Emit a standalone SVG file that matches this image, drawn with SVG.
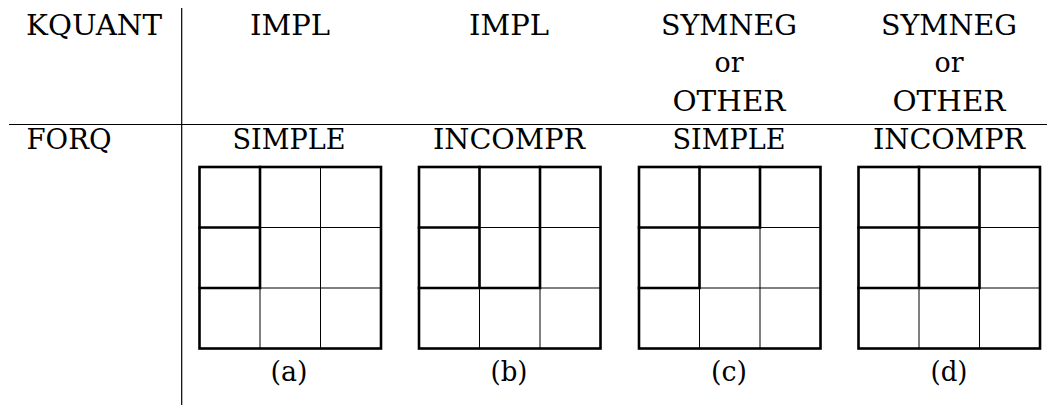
<svg xmlns="http://www.w3.org/2000/svg" width="1047" height="405" viewBox="0 0 1047 405">
<style>
text{font-family:'DejaVu Serif','Liberation Serif',serif;fill:#000;text-anchor:middle}
.t{font-size:28px}
.l{font-size:28px}
.rule{stroke:#000;stroke-width:1.2;fill:none}
.thin{stroke:#000;stroke-width:1;fill:none}
.thick{stroke:#000;stroke-width:2.6;fill:none;stroke-linecap:square}
</style>
<rect width="1047" height="405" fill="#fff"/>
<g id="connectors">
<line class="rule" x1="181.7" y1="8" x2="181.7" y2="405"/>
<line class="rule" x1="9" y1="124.5" x2="1047" y2="124.5"/>
</g>
<g id="header">
<text class="t" x="94" y="35" textLength="136" lengthAdjust="spacingAndGlyphs">KQUANT</text>
<text class="t" x="69" y="149" textLength="85" lengthAdjust="spacingAndGlyphs">FORQ</text>
</g>
<g id="col-a">
<text class="t" x="290" y="35" textLength="80" lengthAdjust="spacingAndGlyphs">IMPL</text>
<text class="t" x="289" y="149" textLength="113" lengthAdjust="spacingAndGlyphs">SIMPLE</text>
<g transform="translate(199.5,167)">
<path class="thin" d="M60.5 0V181.5M121 0V181.5M0 60.5H181.5M0 121H181.5"/>
<path class="thick" d="M60.5 0V121M0 60.5H60.5M0 121H60.5"/>
<rect class="thick" x="0" y="0" width="181.5" height="181.5"/>
</g>
<text class="l" x="289" y="381" textLength="37" lengthAdjust="spacingAndGlyphs">(a)</text>
</g>
<g id="col-b">
<text class="t" x="509" y="35" textLength="80" lengthAdjust="spacingAndGlyphs">IMPL</text>
<text class="t" x="509" y="149" textLength="152" lengthAdjust="spacingAndGlyphs">INCOMPR</text>
<g transform="translate(419,167)">
<path class="thin" d="M60.5 0V181.5M121 0V181.5M0 60.5H181.5M0 121H181.5"/>
<path class="thick" d="M60.5 0V121M121 0V121M0 60.5H60.5M0 121H121"/>
<rect class="thick" x="0" y="0" width="181.5" height="181.5"/>
</g>
<text class="l" x="509" y="381" textLength="37" lengthAdjust="spacingAndGlyphs">(b)</text>
</g>
<g id="col-c">
<text class="t" x="729" y="35" textLength="136" lengthAdjust="spacingAndGlyphs">SYMNEG</text>
<text class="t" x="729" y="72" textLength="29" lengthAdjust="spacingAndGlyphs">or</text>
<text class="t" x="729" y="111" textLength="113" lengthAdjust="spacingAndGlyphs">OTHER</text>
<text class="t" x="729" y="149" textLength="113" lengthAdjust="spacingAndGlyphs">SIMPLE</text>
<g transform="translate(639,167)">
<path class="thin" d="M60.5 0V181.5M121 0V181.5M0 60.5H181.5M0 121H181.5"/>
<path class="thick" d="M60.5 0V121M121 0V60.5M0 60.5H121M0 121H60.5"/>
<rect class="thick" x="0" y="0" width="181.5" height="181.5"/>
</g>
<text class="l" x="729" y="381" textLength="36" lengthAdjust="spacingAndGlyphs">(c)</text>
</g>
<g id="col-d">
<text class="t" x="949" y="35" textLength="136" lengthAdjust="spacingAndGlyphs">SYMNEG</text>
<text class="t" x="949" y="72" textLength="29" lengthAdjust="spacingAndGlyphs">or</text>
<text class="t" x="949" y="111" textLength="113" lengthAdjust="spacingAndGlyphs">OTHER</text>
<text class="t" x="949" y="149" textLength="152" lengthAdjust="spacingAndGlyphs">INCOMPR</text>
<g transform="translate(858.5,167)">
<path class="thin" d="M60.5 0V181.5M121 0V181.5M0 60.5H181.5M0 121H181.5"/>
<path class="thick" d="M60.5 0V121M121 0V121M0 60.5H121M0 121H121"/>
<rect class="thick" x="0" y="0" width="181.5" height="181.5"/>
</g>
<text class="l" x="949" y="381" textLength="37" lengthAdjust="spacingAndGlyphs">(d)</text>
</g>
</svg>
